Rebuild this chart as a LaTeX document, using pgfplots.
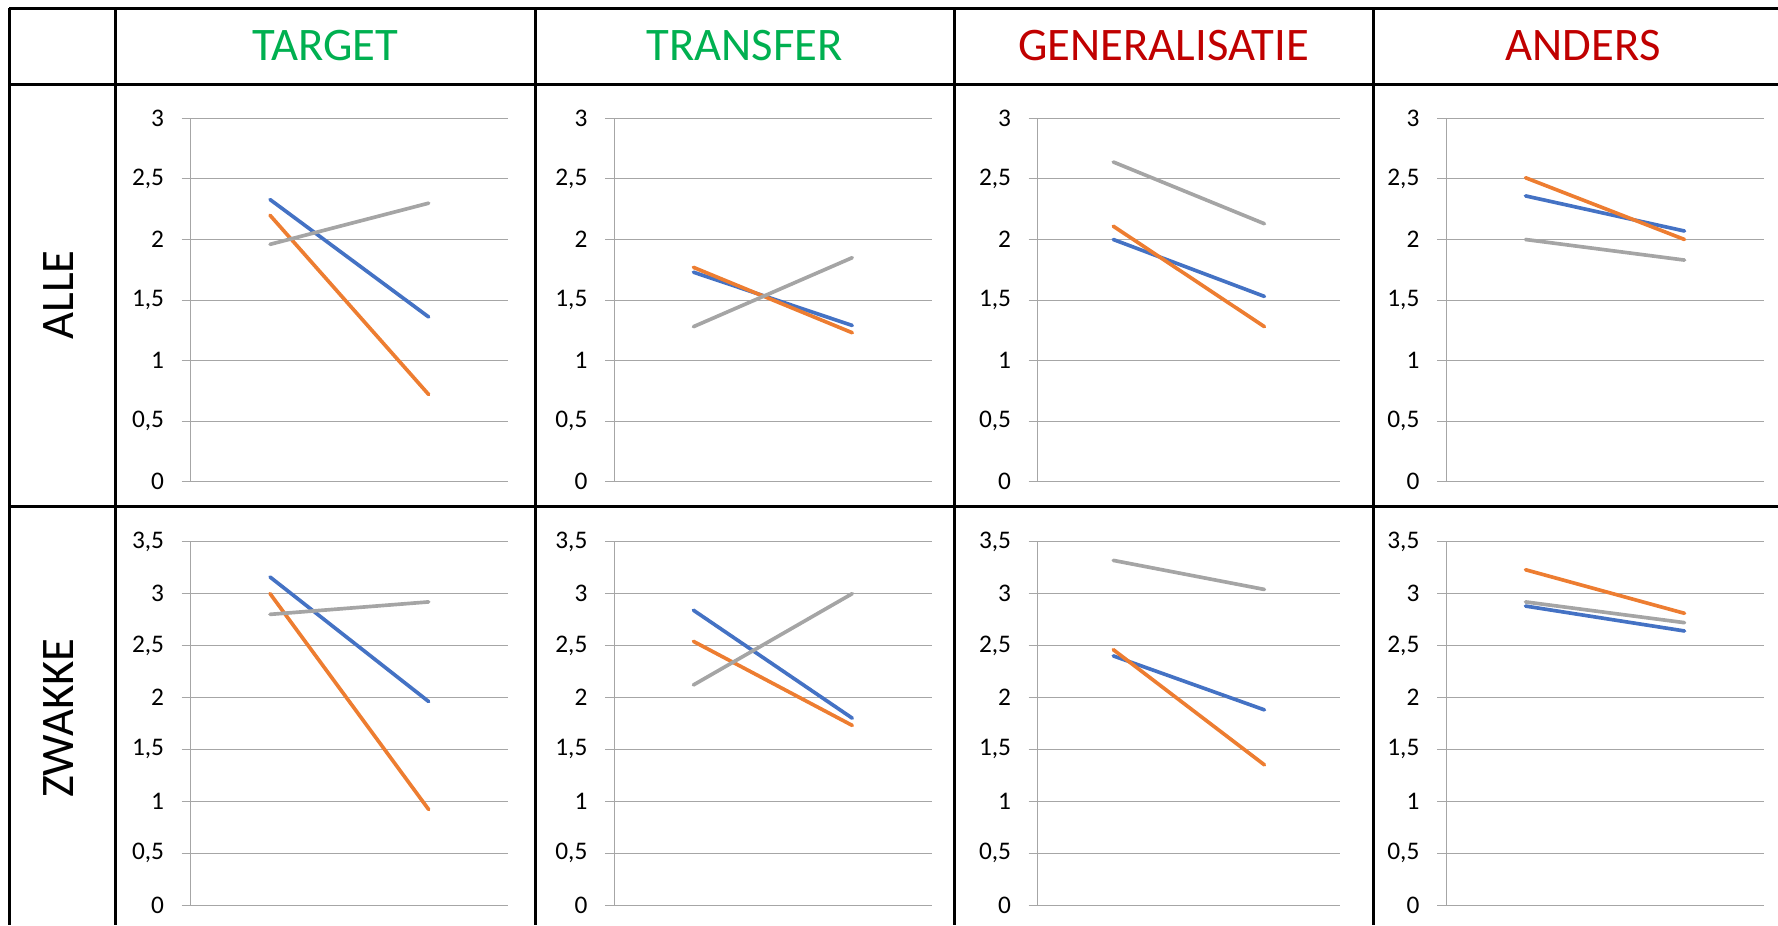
\documentclass[border=0pt]{standalone}
\usepackage{fontspec}
\setmainfont{Carlito}
\usepackage{pgfplots}
\pgfplotsset{compat=1.18}
\definecolor{sblue}{HTML}{4472C4}
\definecolor{sorange}{HTML}{ED7D31}
\definecolor{sgray}{HTML}{A5A5A5}
\definecolor{gridc}{HTML}{A6A6A6}
\definecolor{hgreen}{HTML}{00B050}
\definecolor{hred}{HTML}{C00000}
\pgfplotsset{
  panel/.style={
    scale only axis, anchor=south west,
    xmin=0.5, xmax=2.5, xtick=\empty, ymin=0,
    axis lines=left, axis line style={-, draw=gridc, line width=0.3pt},
    ymajorgrids, grid style={draw=gridc, line width=0.3pt},
    tick align=outside, major tick length=2.7pt,
    ytick style={draw=gridc, line width=0.3pt},
    yticklabel style={font=\fontsize{7.6}{8.4}\selectfont, text=black, anchor=east, inner sep=0pt, xshift=-5.1pt},
    /pgf/number format/use comma,
    /pgf/number format/assume math mode=true,
    every axis plot/.append style={line width=1.1pt, line cap=round, no markers},
    clip=false,
  },
  toprow/.style={panel, height=109pt, ymax=3, ytick={0,0.5,1,1.5,2,2.5,3}},
  botrow/.style={panel, height=109pt, ymax=3.5, ytick={0,0.5,1,1.5,2,2.5,3,3.5}},
}
\begin{document}
\begin{tikzpicture}[x=0.3pt, y=-0.3pt]
% table grid
\begin{scope}[line width=0.9pt]
\draw (9,8) -- (1778,8);
\draw (9,84) -- (1778,84);
\draw (9,506.5) -- (1778,506.5);
\draw (9,8) -- (9,925);
\draw (115,8) -- (115,925);
\draw (535,8) -- (535,925);
\draw (954,8) -- (954,925);
\draw (1373,8) -- (1373,925);
\end{scope}
% headers
\begin{scope}[font=\fontsize{14}{16}\selectfont]
\node[text=hgreen] at (325,46) {TARGET};
\node[text=hgreen] at (744.5,46) {TRANSFER};
\node[text=hred] at (1163.5,46) {GENERALISATIE};
\node[text=hred] at (1583,46) {ANDERS};
\node[rotate=90] at (59,295) {ALLE};
\node[rotate=90] at (59,718) {ZWAKKE};
\end{scope}
\coordinate (a1) at (190.7,481.7);
\coordinate (a2) at (614,481.7);
\coordinate (a3) at (1037.7,481.7);
\coordinate (a4) at (1446,481.7);
\coordinate (b1) at (190.7,905);
\coordinate (b2) at (614,905);
\coordinate (b3) at (1037.7,905);
\coordinate (b4) at (1446,905);
% ---- ALLE row ----
\begin{axis}[toprow, at={(a1)}, width=95.19pt]
\addplot[sblue] coordinates {(1,2.33) (2,1.36)};
\addplot[sorange] coordinates {(1,2.20) (2,0.72)};
\addplot[sgray] coordinates {(1,1.96) (2,2.30)};
\end{axis}
\begin{axis}[toprow, at={(a2)}, width=95.31pt]
\addplot[sblue] coordinates {(1,1.73) (2,1.29)};
\addplot[sorange] coordinates {(1,1.77) (2,1.23)};
\addplot[sgray] coordinates {(1,1.28) (2,1.85)};
\end{axis}
\begin{axis}[toprow, at={(a3)}, width=90.69pt]
\addplot[sblue] coordinates {(1,2.00) (2,1.53)};
\addplot[sorange] coordinates {(1,2.11) (2,1.28)};
\addplot[sgray] coordinates {(1,2.64) (2,2.13)};
\end{axis}
\begin{axis}[toprow, at={(a4)}, width=95.4pt]
\addplot[sblue] coordinates {(1,2.36) (2,2.07)};
\addplot[sorange] coordinates {(1,2.51) (2,2.00)};
\addplot[sgray] coordinates {(1,2.00) (2,1.83)};
\end{axis}
% ---- ZWAKKE row ----
\begin{axis}[botrow, at={(b1)}, width=95.19pt]
\addplot[sblue] coordinates {(1,3.16) (2,1.96)};
\addplot[sorange] coordinates {(1,3.00) (2,0.92)};
\addplot[sgray] coordinates {(1,2.80) (2,2.92)};
\end{axis}
\begin{axis}[botrow, at={(b2)}, width=95.31pt]
\addplot[sblue] coordinates {(1,2.84) (2,1.80)};
\addplot[sorange] coordinates {(1,2.54) (2,1.73)};
\addplot[sgray] coordinates {(1,2.12) (2,3.00)};
\end{axis}
\begin{axis}[botrow, at={(b3)}, width=90.69pt]
\addplot[sblue] coordinates {(1,2.40) (2,1.88)};
\addplot[sorange] coordinates {(1,2.46) (2,1.35)};
\addplot[sgray] coordinates {(1,3.32) (2,3.04)};
\end{axis}
\begin{axis}[botrow, at={(b4)}, width=95.4pt]
\addplot[sblue] coordinates {(1,2.88) (2,2.64)};
\addplot[sorange] coordinates {(1,3.23) (2,2.81)};
\addplot[sgray] coordinates {(1,2.92) (2,2.72)};
\end{axis}
\pgfresetboundingbox
\path[use as bounding box] (0,0) rectangle (1778,925);
\end{tikzpicture}
\end{document}
